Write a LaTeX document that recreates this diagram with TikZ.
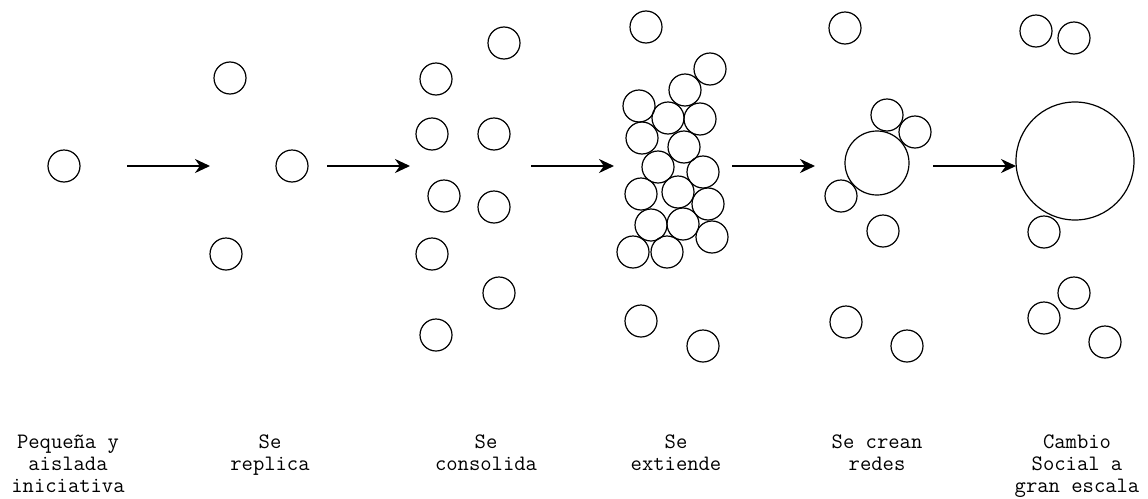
\documentclass[tikz,border=0pt]{standalone}
\usepackage{fontspec}
\usetikzlibrary{arrows.meta}
\tikzset{
  cell/.style={circle, draw, line width=1.2pt, minimum size=32pt, inner sep=0pt},
  hub/.style={circle, draw, line width=1.2pt, inner sep=0pt},
  flow/.style={line width=2pt, -{Stealth[length=15pt, width=14pt]}},
  caption/.style={font=\ttfamily\fontsize{22pt}{22.2pt}\selectfont, align=center, anchor=north, inner sep=0pt}
}
\begin{document}
\begin{tikzpicture}[x=1pt, y=-1pt]
\useasboundingbox (0,0) rectangle (1148,498);

% stage 1: one initiative
\node[cell] (a1) at (64,166) {};

% stage 2: replication
\node[cell] (b1) at (230,78) {};
\node[cell] (b2) at (292,166) {};
\node[cell] (b3) at (226,254) {};

% stage 3: consolidation
\node[cell] (c1) at (504,43) {};
\node[cell] (c2) at (436,79) {};
\node[cell] (c3) at (432,134) {};
\node[cell] (c4) at (494,134) {};
\node[cell] (c5) at (444,196) {};
\node[cell] (c6) at (494,207) {};
\node[cell] (c7) at (432,254) {};
\node[cell] (c8) at (499,293) {};
\node[cell] (c9) at (436,335) {};

% stage 4: extension
\node[cell] (d0) at (646,27) {};
\node[cell] (d1) at (710,69) {};
\node[cell] (d2) at (685,90) {};
\node[cell] (d3) at (639,106) {};
\node[cell] (d4) at (668,118) {};
\node[cell] (d5) at (700,119) {};
\node[cell] (d6) at (642,138) {};
\node[cell] (d7) at (684,147) {};
\node[cell] (d8) at (658,167) {};
\node[cell] (d9) at (703,172) {};
\node[cell] (d10) at (641,194) {};
\node[cell] (d11) at (678,192) {};
\node[cell] (d12) at (708,204) {};
\node[cell] (d13) at (651,225) {};
\node[cell] (d14) at (683,224) {};
\node[cell] (d15) at (712,237) {};
\node[cell] (d16) at (633,252) {};
\node[cell] (d17) at (667,252) {};
\node[cell] (d18) at (641,321) {};
\node[cell] (d19) at (703,346) {};

% stage 5: networks
\node[cell] (e1) at (845,28) {};
\node[cell] (e2) at (887,115) {};
\node[cell] (e3) at (915,132) {};
\node[hub, minimum size=64pt] (e0) at (877,163) {};
\node[cell] (e4) at (841,196) {};
\node[cell] (e5) at (883,231) {};
\node[cell] (e6) at (846,322) {};
\node[cell] (e7) at (907,346) {};

% stage 6: large-scale change
\node[cell] (f1) at (1036,31) {};
\node[cell] (f2) at (1074,38) {};
\node[hub, minimum size=118pt] (f0) at (1075,161) {};
\node[cell] (f3) at (1044,232) {};
\node[cell] (f4) at (1074,293) {};
\node[cell] (f5) at (1044,318) {};
\node[cell] (f6) at (1105,342) {};

% arrows between stages
\coordinate (s1) at (127,166); \coordinate (t1) at (210,166);
\coordinate (s2) at (327,166); \coordinate (t2) at (410,166);
\coordinate (s3) at (531,166); \coordinate (t3) at (614,166);
\coordinate (s4) at (732,166); \coordinate (t4) at (815,166);
\coordinate (s5) at (933,166); \coordinate (t5) at (1016,166);
\foreach \i in {1,...,5} { \draw[flow] (s\i) -- (t\i); }

% captions: first baseline at y = 448, strut height 0.7 * 22.2
\node[caption] (l1) at (68,432.5) {\strut Pequeña y\\aislada\\iniciativa};
\node[caption] (l2) at (270,432.5) {\strut Se\\replica};
\node[caption] (l3) at (486,432.5) {\strut Se\\consolida};
\node[caption] (l4) at (676,432.5) {\strut Se\\extiende};
\node[caption] (l5) at (877,432.5) {\strut Se crean\\redes};
\node[caption] (l6) at (1077,432.5) {\strut Cambio\\Social a\\gran escala};
\end{tikzpicture}
\end{document}
